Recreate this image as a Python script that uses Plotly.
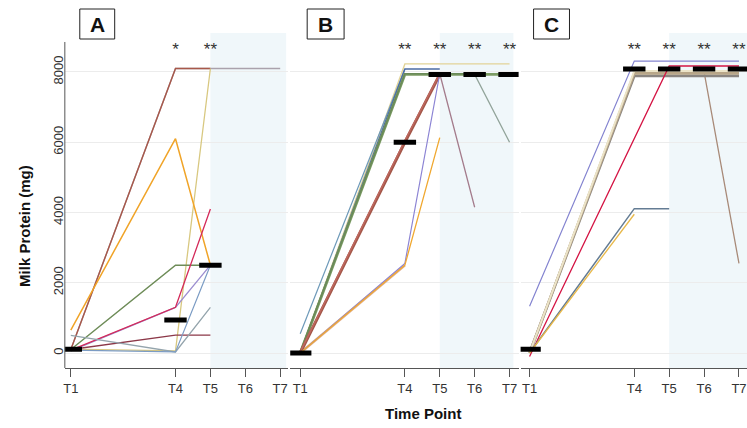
import plotly.graph_objects as go

# ---------------- data ----------------
TIME_POS = [1, 4, 5, 6, 7]
TIME_LABELS = ["T1", "T4", "T5", "T6", "T7"]
Y_TICKS = [0, 2000, 4000, 6000, 8000]
PANEL_LABELS = ["A", "B", "C"]

# Panel A (values at T1, T4, T5, T6, T7)
A_gray = [100, 8100, 8100, 8100, 8100]
A_brown = [100, 8100, 8100, None, None]
A_khaki = [110, 60, 8100, None, None]
A_orange = [650, 6100, 2500, None, None]
A_green = [100, 2500, 2500, None, None]
A_purple = [60, 1300, 2500, None, None]
A_crimson = [80, 1300, 4100, None, None]
A_maroon = [100, 510, 510, None, None]
A_slate = [500, 30, 1300, None, None]
A_blue = [80, 30, 2500, None, None]
A_median = [110, 940, 2500, None, None]
A_stars = ["", "*", "**", "", ""]

# Panel B
B_yellow = [0, 8230, 8230, 8230, 8230]
B_gray = [0, 7930, 7930, 7930, 6000]
B_mauve = [0, 6000, 7950, 4150, None]
B_teal = [550, 8085, None, None, None]
B_blue = [0, 8085, 8085, None, None]
B_green1 = [0, 7930, 7930, 7930, 7930]
B_green2 = [20, 7950, 7950, 7950, None]
B_tan = [0, 2500, None, None, None]
B_brown1 = [0, 6000, 7930, None, None]
B_brown2 = [30, 6050, 7950, None, None]
B_purple = [0, 2550, 7950, None, None]
B_orange = [0, 2500, 6130, None, None]
B_median = [0, 6000, 7930, 7930, 7930]
B_stars = ["", "**", "**", "**", "**"]

# Panel C
C_lavender = [1330, 8310, 8310, 8310, 8310]
C_brown = [0, 8000, 8000, 8000, 2550]
C_gray = [0, 7890, 7890, 7890, 7890]
C_tan = [0, 7960, 7960, 7960, 7960]
C_cream = [0, 8030, 8030, 8030, 8030]
C_red = [-100, None, 8170, 8170, 8170]
C_slate = [0, 4110, 4110, None, None]
C_yellow = [0, 3950, None, None, None]
C_median = [110, 8085, 8085, 8085, 8085]
C_stars = ["", "**", "**", "**", "**"]

# ---------------- styles ----------------
A_series = [
    (A_gray, "#aaa2ac", 1.4), (A_brown, "#a8584a", 1.4), (A_khaki, "#d8c880", 1.3),
    (A_orange, "#f0a428", 1.5), (A_green, "#6e8c58", 1.5), (A_purple, "#9c8ed0", 1.3),
    (A_crimson, "#d42a5a", 1.3), (A_maroon, "#8c3848", 1.3), (A_slate, "#94a4ac", 1.3),
    (A_blue, "#7c9cc4", 1.2),
]
B_series = [
    (B_yellow, "#e2d498", 1.4), (B_gray, "#92a49a", 1.3), (B_mauve, "#a47c8c", 1.3),
    (B_teal, "#6c98b8", 1.2), (B_blue, "#4c6ca4", 1.5), (B_green1, "#7c9c64", 2.8),
    (B_green2, "#6a8a58", 1.6), (B_tan, "#e0b090", 2.6), (B_brown1, "#a4584a", 3.0),
    (B_brown2, "#c06860", 1.4), (B_purple, "#8c84d4", 1.2), (B_orange, "#f0a830", 1.3),
]
C_series = [
    (C_lavender, "#8484d0", 1.2), (C_brown, "#a88a78", 1.3), (C_gray, "#8a8580", 2.8),
    (C_tan, "#b8a688", 2.6), (C_cream, "#ece4c8", 2.0), (C_red, "#d41444", 1.3),
    (C_slate, "#647c94", 1.5), (C_yellow, "#e8b848", 1.3),
]
panels = [
    (A_series, A_median, A_stars),
    (B_series, B_median, B_stars),
    (C_series, C_median, C_stars),
]

W, H = 747, 428
dom_px = [(63, 287), (289, 518), (520, 747)]
x_ranges = [(0.829, 7.23), (0.714, 7.26), (0.743, 7.23)]
shade_end = [7.17, 7.11, 7.23]
label_box_px = [(78, 113), (306, 343), (533, 569)]
Y_RANGE = (-427, 9110)
y_dom = (1 - 368 / H, 1 - 33 / H)
STAR_Y = 8600

fig = go.Figure()
shapes, annotations = [], []
for i, (series, median, stars) in enumerate(panels):
    xa = "x" if i == 0 else f"x{i+1}"
    ya = "y" if i == 0 else f"y{i+1}"
    for vals, col, w in series:
        fig.add_trace(go.Scatter(x=TIME_POS, y=vals, mode="lines", xaxis=xa, yaxis=ya,
                                 line=dict(color=col, width=w), connectgaps=True,
                                 showlegend=False, hoverinfo="skip"))
    fig.add_trace(go.Scatter(x=TIME_POS, y=median, mode="markers", xaxis=xa, yaxis=ya,
                             marker=dict(symbol="line-ew", size=16,
                                         line=dict(width=5, color="black")),
                             showlegend=False, hoverinfo="skip"))
    fig.add_trace(go.Scatter(x=TIME_POS, y=[STAR_Y] * len(TIME_POS), text=stars,
                             mode="text", xaxis=xa, yaxis=ya,
                             textfont=dict(size=17, color="#333333", family="Arial"),
                             showlegend=False, hoverinfo="skip"))
    shapes.append(dict(type="rect", xref=xa, yref=ya, x0=5, x1=shade_end[i],
                       y0=Y_RANGE[0], y1=Y_RANGE[1], fillcolor="#f0f7fa",
                       line=dict(width=0), layer="below"))
    bx0, bx1 = label_box_px[i]
    shapes.append(dict(type="rect", xref="paper", yref="paper", x0=bx0 / W, x1=bx1 / W,
                       y0=1 - 39 / H, y1=1 - 9 / H, line=dict(color="#222222", width=1),
                       fillcolor="white"))
    annotations.append(dict(text=f"<b>{PANEL_LABELS[i]}</b>", xref="paper", yref="paper",
                            x=(bx0 + bx1) / 2 / W, y=1 - 24 / H, showarrow=False,
                            xanchor="center", yanchor="middle",
                            font=dict(size=21, color="#111111", family="Arial")))
    d0, d1 = dom_px[i]
    xkey = "xaxis" if i == 0 else f"xaxis{i+1}"
    ykey = "yaxis" if i == 0 else f"yaxis{i+1}"
    fig.layout[xkey] = dict(domain=[d0 / W, d1 / W], range=list(x_ranges[i]),
                            tickvals=TIME_POS, ticktext=TIME_LABELS, showgrid=False,
                            zeroline=False, showline=True, linecolor="#555555", linewidth=1,
                            ticks="outside", ticklen=8, tickcolor="#555555",
                            tickfont=dict(size=13, color="#333333", family="Arial"),
                            anchor=ya)
    fig.layout[ykey] = dict(domain=list(y_dom), range=list(Y_RANGE), tickvals=Y_TICKS,
                            showgrid=True, gridcolor="#ececec", gridwidth=1, zeroline=False,
                            showticklabels=(i == 0), tickangle=-90, ticklabelstandoff=-2,
                            tickfont=dict(size=13, color="#333333", family="Arial"),
                            anchor=xa)

# y axis line of panel A
shapes.append(dict(type="line", xref="x domain", yref="y", x0=0, x1=0, y0=Y_RANGE[0],
                   y1=8854, line=dict(color="#555555", width=1)))

annotations.append(dict(text="<b>Milk Protein (mg)</b>", xref="paper", yref="paper",
                        x=22 / W, y=1 - 226 / H, textangle=-90, showarrow=False,
                        xanchor="center", yanchor="middle",
                        font=dict(size=15, color="#111111", family="Arial")))
annotations.append(dict(text="<b>Time Point</b>", xref="paper", yref="paper",
                        x=422 / W, y=1 - 413 / H, showarrow=False,
                        xanchor="center", yanchor="middle",
                        font=dict(size=15, color="#111111", family="Arial")))

fig.update_layout(width=W, height=H, margin=dict(l=0, r=0, t=0, b=0),
                  plot_bgcolor="white", paper_bgcolor="white",
                  shapes=shapes, annotations=annotations, showlegend=False)
fig.write_html("out.html")
